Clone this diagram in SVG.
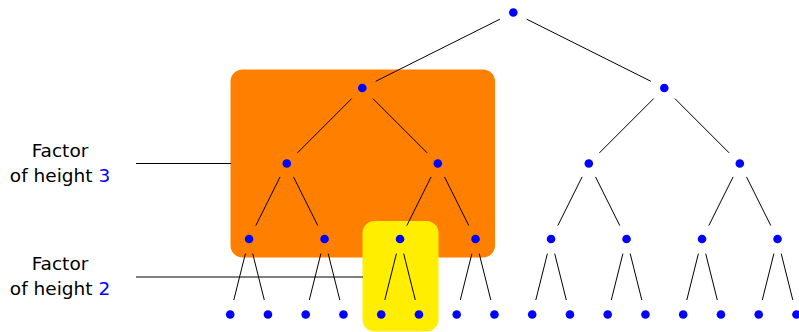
<svg xmlns="http://www.w3.org/2000/svg" width="799" height="332" viewBox="0 0 799 332">
<style>
.e{stroke:#000;stroke-width:1;fill:none}
.n{fill:#0000FF}
.t{font-family:"DejaVu Sans",sans-serif;font-size:18.5px;fill:#000;text-anchor:middle}
.b{fill:#0000FF}
</style>
<rect id="factor3-box" x="230.5" y="69.5" width="264.5" height="188" rx="12" fill="#FF8000"/>
<rect id="factor2-box" x="362.5" y="221" width="76" height="110.5" rx="12" fill="#FFEE00"/>
<g id="labels">
<line class="e" x1="136" y1="163.5" x2="231" y2="163.5"/>
<line class="e" x1="136" y1="277" x2="363" y2="277"/>
<text class="t" x="60" y="156.7">Factor</text>
<text class="t" x="60" y="181.7">of height <tspan class="b">3</tspan></text>
<text class="t" x="60" y="270">Factor</text>
<text class="t" x="60" y="295">of height <tspan class="b">2</tspan></text>
</g>
<g id="connectors">
<line class="e" x1="499.9" y1="19.2" x2="375.7" y2="81.3"/>
<line class="e" x1="526.7" y1="19.2" x2="650.9" y2="81.3"/>
<line class="e" x1="351.7" y1="98.6" x2="297.4" y2="152.9"/>
<line class="e" x1="372.9" y1="98.6" x2="427.2" y2="152.9"/>
<line class="e" x1="653.7" y1="98.6" x2="599.4" y2="152.9"/>
<line class="e" x1="674.9" y1="98.6" x2="729.2" y2="152.9"/>
<line class="e" x1="280.1" y1="176.9" x2="255.8" y2="225.6"/>
<line class="e" x1="293.5" y1="176.9" x2="317.8" y2="225.6"/>
<line class="e" x1="431.1" y1="176.9" x2="406.8" y2="225.6"/>
<line class="e" x1="444.5" y1="176.9" x2="468.8" y2="225.6"/>
<line class="e" x1="582.1" y1="176.9" x2="557.8" y2="225.6"/>
<line class="e" x1="595.5" y1="176.9" x2="619.8" y2="225.6"/>
<line class="e" x1="733.1" y1="176.9" x2="708.8" y2="225.6"/>
<line class="e" x1="746.5" y1="176.9" x2="770.8" y2="225.6"/>
<line class="e" x1="245.4" y1="253.6" x2="233.8" y2="300"/>
<line class="e" x1="252.7" y1="253.6" x2="264.3" y2="300"/>
<line class="e" x1="320.9" y1="253.6" x2="309.3" y2="300"/>
<line class="e" x1="328.2" y1="253.6" x2="339.8" y2="300"/>
<line class="e" x1="396.4" y1="253.6" x2="384.8" y2="300"/>
<line class="e" x1="403.7" y1="253.6" x2="415.3" y2="300"/>
<line class="e" x1="471.9" y1="253.6" x2="460.3" y2="300"/>
<line class="e" x1="479.2" y1="253.6" x2="490.8" y2="300"/>
<line class="e" x1="547.4" y1="253.6" x2="535.8" y2="300"/>
<line class="e" x1="554.7" y1="253.6" x2="566.3" y2="300"/>
<line class="e" x1="622.9" y1="253.6" x2="611.3" y2="300"/>
<line class="e" x1="630.2" y1="253.6" x2="641.8" y2="300"/>
<line class="e" x1="698.4" y1="253.6" x2="686.8" y2="300"/>
<line class="e" x1="705.7" y1="253.6" x2="717.3" y2="300"/>
<line class="e" x1="773.9" y1="253.6" x2="762.3" y2="300"/>
<line class="e" x1="781.2" y1="253.6" x2="792.8" y2="300"/>
</g>
<g id="n0"><circle class="n" cx="513.3" cy="12.5" r="4.3"/></g>
<g id="n1a"><circle class="n" cx="362.3" cy="88" r="4.3"/></g>
<g id="n1b"><circle class="n" cx="664.3" cy="88" r="4.3"/></g>
<g id="n2a"><circle class="n" cx="286.8" cy="163.5" r="4.3"/></g>
<g id="n2b"><circle class="n" cx="437.8" cy="163.5" r="4.3"/></g>
<g id="n2c"><circle class="n" cx="588.8" cy="163.5" r="4.3"/></g>
<g id="n2d"><circle class="n" cx="739.8" cy="163.5" r="4.3"/></g>
<g id="n3a"><circle class="n" cx="249.05" cy="239" r="4.3"/></g>
<g id="n3b"><circle class="n" cx="324.55" cy="239" r="4.3"/></g>
<g id="n3c"><circle class="n" cx="400.05" cy="239" r="4.3"/></g>
<g id="n3d"><circle class="n" cx="475.55" cy="239" r="4.3"/></g>
<g id="n3e"><circle class="n" cx="551.05" cy="239" r="4.3"/></g>
<g id="n3f"><circle class="n" cx="626.55" cy="239" r="4.3"/></g>
<g id="n3g"><circle class="n" cx="702.05" cy="239" r="4.3"/></g>
<g id="n3h"><circle class="n" cx="777.55" cy="239" r="4.3"/></g>
<g id="n4a"><circle class="n" cx="230.2" cy="314.5" r="4.3"/></g>
<g id="n4b"><circle class="n" cx="267.95" cy="314.5" r="4.3"/></g>
<g id="n4c"><circle class="n" cx="305.7" cy="314.5" r="4.3"/></g>
<g id="n4d"><circle class="n" cx="343.45" cy="314.5" r="4.3"/></g>
<g id="n4e"><circle class="n" cx="381.2" cy="314.5" r="4.3"/></g>
<g id="n4f"><circle class="n" cx="418.95" cy="314.5" r="4.3"/></g>
<g id="n4g"><circle class="n" cx="456.7" cy="314.5" r="4.3"/></g>
<g id="n4h"><circle class="n" cx="494.45" cy="314.5" r="4.3"/></g>
<g id="n4i"><circle class="n" cx="532.2" cy="314.5" r="4.3"/></g>
<g id="n4j"><circle class="n" cx="569.95" cy="314.5" r="4.3"/></g>
<g id="n4k"><circle class="n" cx="607.7" cy="314.5" r="4.3"/></g>
<g id="n4l"><circle class="n" cx="645.45" cy="314.5" r="4.3"/></g>
<g id="n4m"><circle class="n" cx="683.2" cy="314.5" r="4.3"/></g>
<g id="n4n"><circle class="n" cx="720.95" cy="314.5" r="4.3"/></g>
<g id="n4o"><circle class="n" cx="758.7" cy="314.5" r="4.3"/></g>
<g id="n4p"><circle class="n" cx="796.45" cy="314.5" r="4.3"/></g>
</svg>
